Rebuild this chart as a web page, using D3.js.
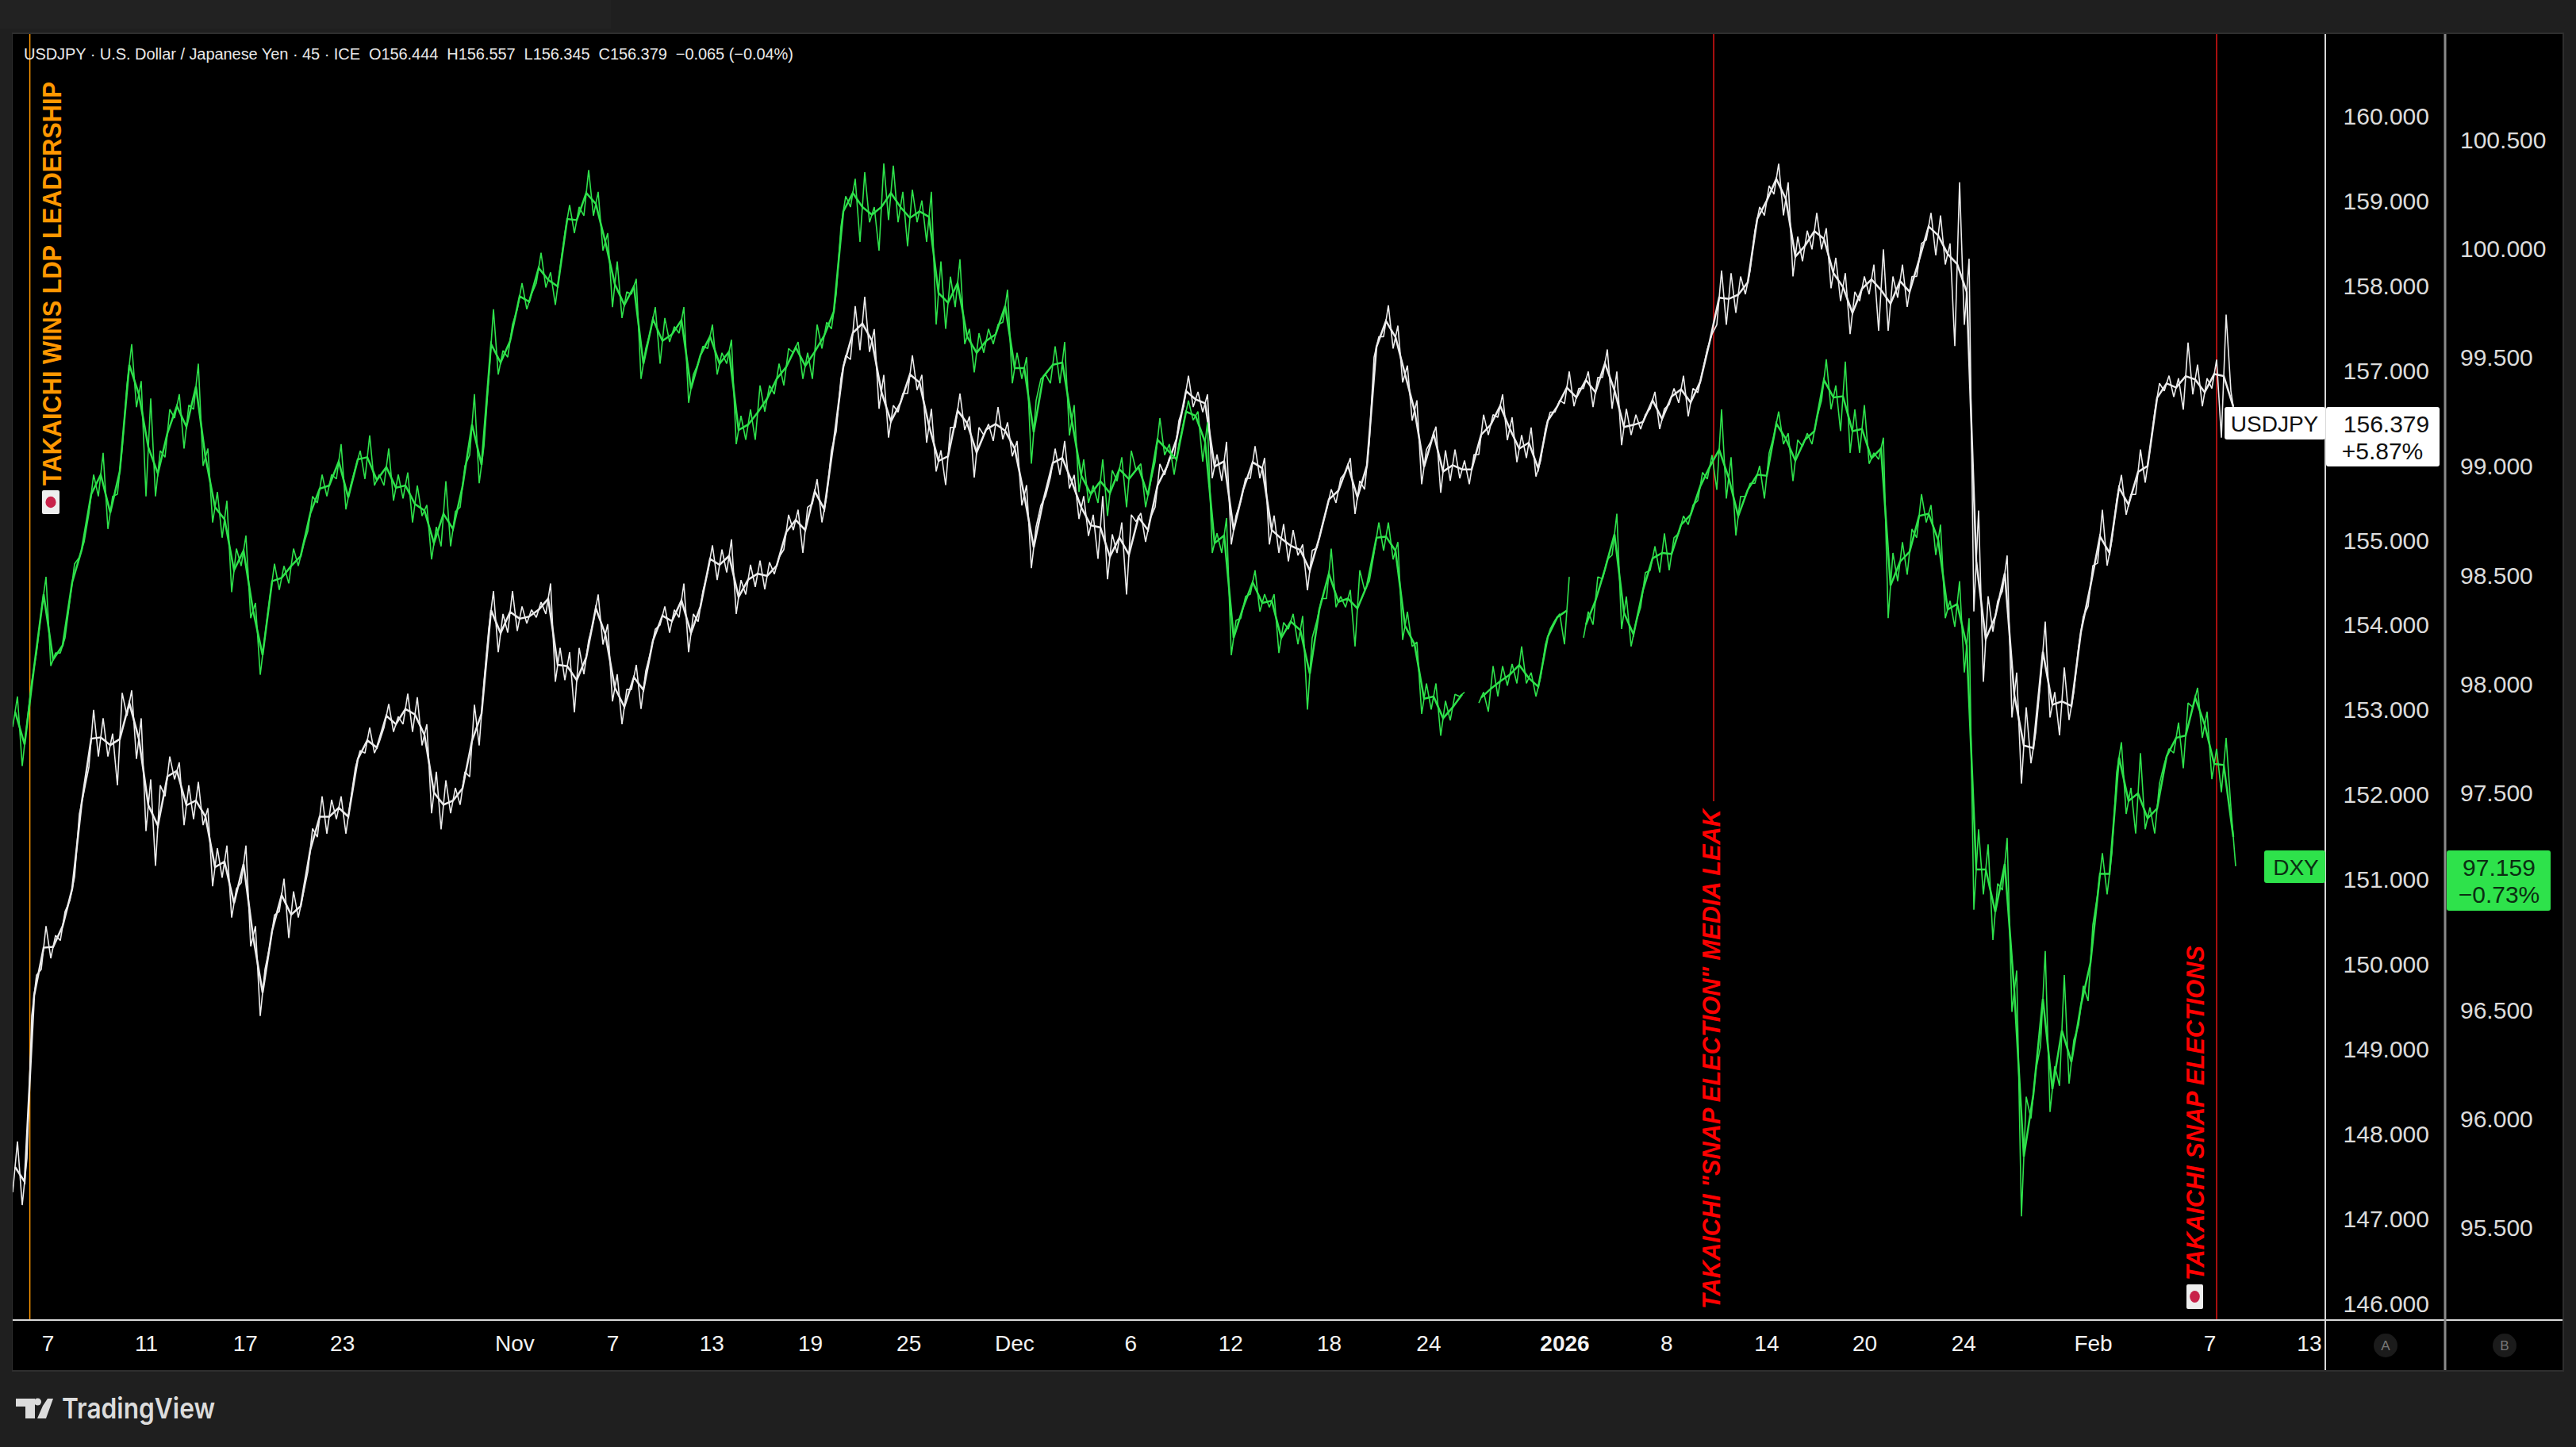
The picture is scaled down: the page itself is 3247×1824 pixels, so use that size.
<!DOCTYPE html>
<html>
<head>
<meta charset="utf-8">
<script src="https://cdn.jsdelivr.net/npm/d3@7"></script>
<style>
    html, body { margin: 0; padding: 0; background: #1f1f1f; }
    svg { display: block; }
    text { font-family: "Liberation Sans", Arial, sans-serif; }
</style>
</head>
<body>
<div id="chart"></div>
<script>
// 45 min chart, one high/low pair per sample
const jpyHigh = [
    147.9,147.7,149.86,150.44,150.33,150.61,151.02,152.03,152.99,152.89,152.71,153.19,153.22,152.89,152.17,152.1,152.44,152.37,152.1,152.14,151.83,151.36,151.39,150.88,151.39,150.44,149.93,150.57,151,150.85,150.81,151.59,151.97,151.93,151.97,151.93,152.51,152.78,152.61,153.06,
    152.91,153.18,153.14,152.82,152.26,152.16,152.07,152.26,153.05,153.32,154.39,154.12,154.39,154.21,154.17,154.26,154.48,153.72,153.67,153.72,153.81,154.35,154.0,153.41,153.23,153.52,153.45,153.94,154.21,154.17,154.48,154.12,154.39,154.93,154.88,155.0,154.52,154.7,154.75,
    154.73,154.79,155.29,155.35,155.38,155.71,155.51,156.27,157.17,157.75,157.86,157.48,156.94,156.58,156.72,157.17,156.94,156.54,156.05,156.32,156.72,156.45,156.32,156.36,156.56,156.38,156.16,155.64,155.15,155.51,156.07,156.16,155.76,155.51,155.29,155.51,155.06,155.2,155.29,
    155.31,155.25,155.89,155.96,156.4,156.93,156.74,156.71,156,156.15,155.28,155.72,156.1,155.96,155.28,155.18,155.11,154.94,154.87,155.14,155.59,155.72,155.96,155.69,156.15,157.39,157.76,157.52,157.05,156.64,156.06,156.33,156.05,156.06,155.93,156,156.47,156.47,156.71,
    156.44,156.23,156.32,155.93,156.5,156.64,156.98,156.78,156.98,156.91,157.24,156.98,156.54,156.47,156.47,156.74,156.54,156.78,156.93,156.78,156.98,157.42,158.17,158.14,158.1,158.17,158.92,159.17,159.43,159.21,158.57,158.64,158.85,158.67,158.32,158.14,157.92,158.1,158.24,
    158.42,158.1,158.24,158.1,158.49,158.85,158.82,158.49,159.21,158.31,155.34,154.33,154.27,154.81,153.43,153.02,152.72,154.03,153.2,153.49,153.2,154.09,154.69,155.35,154.99,155.76,155.53,156.06,156.06,156.84,156.93,156.9,157.32,157.06,156.9,157.12,157.65,156.75
];
const jpyLow = [
    147.3,147.15,149.38,149.93,150.06,150.27,150.74,151.76,152.31,152.44,152.44,152.1,152.92,152.41,151.56,151.15,151.97,152.17,151.63,151.7,151.63,150.91,151.01,150.54,150.95,150.2,149.38,150.2,150.61,150.3,150.54,151.08,151.49,151.53,151.7,151.53,152.31,152.48,152.48,152.78,
    152.73,152.82,152.73,152.57,151.77,151.58,151.77,151.87,152.2,152.57,153.94,153.67,153.9,153.92,154.01,154.08,154.12,153.32,153.34,152.96,153.41,154.03,153.76,153.09,152.82,153.23,153.0,153.67,153.99,153.9,154.08,153.67,154.03,154.61,154.52,154.61,154.12,154.35,154.44,
    154.41,154.59,154.88,155.11,154.84,155.42,155.2,156.05,156.9,157.12,157.23,157.21,156.54,156.2,156.5,156.72,156.76,156.14,155.8,155.64,156.32,156.29,155.73,156.23,156.16,156.18,155.98,155.4,154.66,155.4,155.73,155.76,155.6,155.24,155.04,154.77,154.53,154.84,154.35,
    155.21,154.97,155.38,155.76,155.96,156.57,156.56,156.5,155.72,155.69,154.94,155.45,155.72,155.72,154.94,154.84,154.74,154.81,154.4,154.9,155.35,155.43,155.79,155.3,155.59,157.15,157.39,157.25,156.85,156.4,155.65,156.16,155.55,155.69,155.72,155.65,156,156.23,156.44,
    156.17,155.91,155.96,155.74,156.3,156.5,156.6,156.57,156.78,156.56,156.91,156.54,156.11,156.23,156.3,156.54,156.3,156.59,156.61,156.45,156.73,157.24,157.53,157.53,157.67,157.89,158.64,158.82,159.07,158.82,158.1,158.28,158.42,158.42,157.96,157.81,157.42,157.81,157.89,
    157.46,157.46,157.85,157.74,158.1,158.53,158.35,158.24,157.28,157.53,154.15,153.32,153.91,154.39,152.9,152.12,152.36,153.32,152.9,152.69,152.87,153.73,154.21,154.72,154.69,155.46,155.29,155.53,155.67,156.5,156.75,156.68,156.53,156.71,156.57,156.78,156.2,156.38
];
const dxyHigh = [
    97.94,97.82,98.14,98.49,98.14,98.21,98.55,98.65,98.96,99.06,98.86,99.08,99.56,99.39,99.31,99.07,99.26,99.33,99.28,99.47,99.08,98.88,98.84,98.62,98.68,98.37,98.22,98.55,98.54,98.62,98.63,98.86,98.96,98.96,99.10,98.91,99.07,99.14,98.96,99.08,
    98.96,98.97,98.91,98.82,98.72,98.93,98.79,99.00,99.33,99.09,99.72,99.53,99.65,99.84,99.79,99.98,99.89,99.91,100.20,100.19,100.36,100.26,100.07,99.94,99.80,99.86,99.54,99.73,99.68,99.64,99.73,99.42,99.55,99.65,99.52,99.58,99.23,99.26,99.37,
    99.37,99.47,99.54,99.57,99.52,99.65,99.66,99.79,100.24,100.32,100.35,100.19,100.39,100.38,100.26,100.27,100.22,100.26,99.94,99.87,99.95,99.63,99.61,99.63,99.65,99.81,99.52,99.50,99.30,99.42,99.55,99.57,99.28,99.03,98.91,99.03,98.98,99.04,99.07,
    99.01,98.92,99.22,99.10,99.10,99.30,99.25,99.20,98.69,98.76,98.29,98.40,98.52,98.41,98.41,98.28,98.32,98.31,98.21,98.39,98.62,98.40,98.43,98.52,98.47,98.74,98.74,98.65,98.33,98.19,98.00,98.00,97.92,97.95,97.96,null,97.96,98.08,98.08,
    98.09,98.17,98.05,98.03,98.25,98.32,98.49,null,98.33,98.49,98.57,98.78,98.40,98.28,98.51,98.63,98.69,98.67,98.77,98.82,98.97,99.05,99.26,99.04,98.86,98.92,99.00,99.06,99.25,99.15,99.12,99.15,99.22,99.49,99.37,99.48,99.26,99.28,99.06,
    99.13,98.60,98.65,98.71,98.87,98.82,98.73,98.38,98.47,98.30,97.33,97.26,97.08,97.29,96.68,96.10,96.22,96.77,96.24,96.66,96.36,96.61,96.89,97.22,97.22,97.73,97.52,97.68,97.43,97.54,97.70,97.82,97.91,97.98,97.87,97.70,97.75,97.43
];
const dxyLow = [
    97.80,97.62,98.01,98.33,98.08,98.14,98.38,98.58,98.78,98.86,98.71,98.87,99.37,99.27,98.86,98.86,99.04,99.22,99.08,99.26,99.00,98.74,98.67,98.42,98.54,98.30,98.04,98.39,98.43,98.46,98.54,98.70,98.83,98.86,98.94,98.80,98.99,98.94,98.91,98.91,
    98.84,98.85,98.74,98.77,98.57,98.63,98.63,98.81,99.05,98.92,99.40,99.42,99.50,99.72,99.72,99.84,99.82,99.74,100.07,100.07,100.15,100.15,99.99,99.73,99.68,99.79,99.40,99.62,99.47,99.57,99.61,99.29,99.47,99.54,99.42,99.47,99.10,99.12,99.12,
    99.25,99.33,99.37,99.52,99.40,99.40,99.54,99.63,100.10,100.19,100.03,100.12,99.99,100.13,100.12,100.01,100.12,100.03,99.65,99.63,99.73,99.56,99.43,99.52,99.56,99.66,99.38,99.40,99.01,99.40,99.38,99.38,99.14,98.88,98.83,98.83,98.77,98.93,98.81,
    98.98,98.81,99.02,99.05,98.96,99.20,99.21,99.02,98.60,98.60,98.13,98.30,98.41,98.33,98.35,98.14,98.25,98.18,97.88,98.29,98.39,98.35,98.35,98.17,98.43,98.60,98.61,98.57,98.20,98.17,97.86,97.88,97.76,97.83,97.94,null,97.91,97.87,97.94,
    97.99,98.00,98.00,97.94,98.18,98.29,98.18,null,98.21,98.27,98.48,98.59,98.25,98.17,98.35,98.52,98.51,98.52,98.69,98.73,98.84,98.94,98.89,98.85,98.68,98.86,98.92,98.85,99.14,99.10,98.93,99.09,99.10,99.30,99.26,99.16,99.06,99.06,99.01,
    99.03,98.30,98.47,98.50,98.67,98.74,98.59,98.30,98.26,98.05,96.96,97.03,96.82,97.05,96.49,95.55,96.00,96.33,96.03,96.15,96.16,96.43,96.54,97.03,97.03,97.59,97.40,97.31,97.33,97.31,97.63,97.68,97.61,97.89,97.75,97.56,97.50,97.16
];

const jpyTicks = [146, 147, 148, 149, 150, 151, 152, 153, 154, 155, 157, 158, 159, 160];
const dxyTicks = [95.5, 96, 96.5, 97.5, 98, 98.5, 99, 99.5, 100, 100.5];
const timeLabels = ['7', '11', '17', '23', 'Nov', '7', '13', '19', '25', 'Dec', '6', '12', '18', '24', '2026', '8', '14', '20', '24', 'Feb', '7', '13'];
const timeBars = [3.67, 14, 24.4, 34.6, 52.7, 63, 73.4, 83.75, 94.1, 105.2, 117.4, 127.9, 138.25, 148.7, 163, 173.7, 184.2, 194.5, 204.9, 218.5, 230.75, 241.2];

const headerText = 'USDJPY · U.S. Dollar / Japanese Yen · 45 · ICE  O156.444  H156.557  L156.345  C156.379  −0.065 (−0.04%)';
const eventBars = [1.8, 178.67, 231.5];

const W = 3247, H = 1824;
const panel = { left: 16, top: 43, right: 3230, bottom: 1727 };
const axisA = 2931, axisB = 3082, timeY = 1664;

const green = '#2ee24b', white = '#ececec', red = '#e01414', orange = '#ff9800';

const svg = d3.select('#chart').append('svg')
    .attr('width', W)
    .attr('height', H)
    .attr('viewBox', `0 0 ${W} ${H}`);

svg.append('rect').attr('width', W).attr('height', H).attr('fill', '#1f1f1f');
svg.append('rect').attr('width', 770).attr('height', 36).attr('fill', '#222222');
svg.append('rect')
    .attr('x', panel.left - 1).attr('y', panel.top - 2)
    .attr('width', panel.right - panel.left + 3).attr('height', panel.bottom - panel.top + 4)
    .attr('fill', '#2e2e2e');
svg.append('rect')
    .attr('x', panel.left).attr('y', panel.top)
    .attr('width', panel.right - panel.left).attr('height', panel.bottom - panel.top)
    .attr('fill', '#000');

// one bar index is 12px on screen
const x = d3.scaleLinear().domain([0, 233]).range([16, 2812]);
const yJpy = d3.scaleLinear().domain([146, 160]).range([1642, 145.4]);
const yDxy = d3.scaleLinear().domain([95.5, 100.5]).range([1547, 176]);

svg.append('defs').append('clipPath').attr('id', 'plot')
    .append('rect')
    .attr('x', panel.left).attr('y', panel.top)
    .attr('width', axisA - panel.left).attr('height', timeY - panel.top);

// jagged low/high trace with a heavier core through the middle of each range
const drawSeries = (low, high, y, color) => {
    const g = svg.append('g').attr('clip-path', 'url(#plot)');
    const last = low.length - 1;
    // the last sample ends on its close, which is the low of that bar
    const points = low.flatMap((v, i) => i === last
        ? [{ bar: i, value: high[i] }, { bar: i + 0.5, value: v }]
        : [{ bar: i, value: v }, { bar: i + 0.5, value: high[i] }]);
    const mids = low.map((v, i) => ({ bar: i + 0.25, value: v == null ? null : (v + high[i]) / 2 }));
    const line = d3.line()
        .defined(d => d.value != null)
        .x(d => x(d.bar))
        .y(d => y(d.value));
    g.append('path')
        .datum(points)
        .attr('fill', 'none')
        .attr('stroke', color)
        .attr('stroke-width', 1.6)
        .attr('stroke-linejoin', 'bevel')
        .attr('d', line);
    g.append('path')
        .datum(mids)
        .attr('fill', 'none')
        .attr('stroke', color)
        .attr('stroke-width', 2.5)
        .attr('d', line);
};

// event lines
svg.selectAll('.event')
    .data(eventBars)
    .join('line')
    .attr('class', 'event')
    .attr('x1', d => x(d)).attr('x2', d => x(d))
    .attr('y1', panel.top)
    .attr('y2', (d, i) => i === 1 ? 1010 : timeY)
    .attr('stroke', (d, i) => i === 0 ? orange : red)
    .attr('stroke-width', 1.5);

drawSeries(jpyLow, jpyHigh, yJpy, white);
drawSeries(dxyLow, dxyHigh, yDxy, green);

// axis frames
svg.append('line').attr('x1', panel.left).attr('x2', panel.right).attr('y1', timeY).attr('y2', timeY)
    .attr('stroke', '#d8d8d8').attr('stroke-width', 2);
svg.append('line').attr('x1', axisA).attr('x2', axisA).attr('y1', panel.top).attr('y2', panel.bottom)
    .attr('stroke', '#d8d8d8').attr('stroke-width', 2);
svg.append('line').attr('x1', axisB).attr('x2', axisB).attr('y1', panel.top).attr('y2', panel.bottom)
    .attr('stroke', '#8a8a8a').attr('stroke-width', 3);

const styleAxis = (g) => {
    g.select('.domain').remove();
    g.selectAll('.tick line').remove();
    g.selectAll('text')
        .attr('font-family', '"Liberation Sans", Arial, sans-serif')
        .attr('font-size', 30)
        .attr('fill', '#dcdcdc');
};

svg.append('g')
    .attr('transform', `translate(${axisA},1.5)`)
    .call(d3.axisRight(yJpy).tickValues(jpyTicks).tickFormat(d3.format('.3f')).tickSize(0).tickPadding(0))
    .call(styleAxis)
    .selectAll('text')
    .attr('text-anchor', 'end')
    .attr('x', 131);

svg.append('g')
    .attr('transform', `translate(${axisB},1)`)
    .call(d3.axisRight(yDxy).tickValues(dxyTicks).tickFormat(d3.format('.3f')).tickSize(0).tickPadding(19))
    .call(styleAxis);

svg.append('g')
    .attr('transform', `translate(0,${timeY})`)
    .call(d3.axisBottom(x).tickValues(timeBars).tickFormat((d, i) => timeLabels[i]).tickSize(0).tickPadding(19))
    .call(styleAxis)
    .selectAll('text')
    .attr('font-size', 28)
    .attr('fill', '#f2f2f2')
    .attr('font-weight', d => timeLabels[timeBars.indexOf(d)] === '2026' ? 'bold' : 'normal');

// header
svg.append('text')
    .attr('x', 30).attr('y', 75)
    .attr('font-size', 20)
    .attr('fill', '#e8e8e8')
    .attr('xml:space', 'preserve')
    .style('white-space', 'pre')
    .attr('textLength', 970)
    .text(headerText);

// event notes, rotated along their lines
const note = (label, baseX, bottomY, len, size, color, italic) => {
    svg.append('text')
        .attr('transform', `translate(${baseX},${bottomY}) rotate(-90)`)
        .attr('font-size', size)
        .attr('font-weight', 'bold')
        .attr('font-style', italic ? 'italic' : 'normal')
        .attr('fill', color)
        .attr('textLength', len)
        .attr('lengthAdjust', 'spacingAndGlyphs')
        .text(label);
};
note('TAKAICHI WINS LDP LEADERSHIP', 77, 612, 509, 33, orange, false);
note('TAKAICHI "SNAP ELECTION" MEDIA LEAK', 2168, 1650, 630, 32, '#ff0000', true);
note('TAKAICHI SNAP ELECTIONS', 2778, 1614, 422, 32, '#ff0000', true);

const flag = (fx, fy, w, h) => {
    svg.append('rect').attr('x', fx).attr('y', fy).attr('width', w).attr('height', h).attr('rx', 2).attr('fill', '#eeeeee');
    svg.append('ellipse').attr('cx', fx + w / 2).attr('cy', fy + h / 2).attr('rx', w * 0.3).attr('ry', h * 0.24).attr('fill', '#c8224a');
};
flag(53, 618, 22, 30);
flag(2756, 1619, 21, 31);

// last price labels
const box = (bx, by, w, h, fill, radius) => svg.append('rect')
    .attr('x', bx).attr('y', by).attr('width', w).attr('height', h).attr('rx', radius).attr('fill', fill);
const boxText = (label, tx, ty, size, fill) => svg.append('text')
    .attr('x', tx).attr('y', ty)
    .attr('text-anchor', 'middle')
    .attr('dominant-baseline', 'central')
    .attr('font-size', size)
    .attr('fill', fill)
    .text(label);

box(2804, 513, 127, 41, '#ffffff', 3);
boxText('USDJPY', 2867, 534, 28, '#111111');
box(2932, 513, 143, 75, '#ffffff', 3);
boxText('156.379', 3008, 534, 30, '#111111');
boxText('+5.87%', 3003, 568, 30, '#111111');

box(2854, 1072, 77, 41, green, 3);
boxText('DXY', 2894, 1093, 28, '#0b2e12');
box(3084, 1072, 131, 76, green, 3);
boxText('97.159', 3150, 1093, 30, '#0b2e12');
boxText('−0.73%', 3150, 1127, 30, '#0b2e12');

// scale badges
[['A', 3007], ['B', 3157]].forEach(([label, cx]) => {
    svg.append('ellipse').attr('cx', cx).attr('cy', 1696).attr('rx', 15).attr('ry', 15).attr('fill', '#1b1b1b');
    boxText(label, cx, 1696, 17, '#787878');
});

// TradingView mark
svg.append('path')
    .attr('fill', '#dcdcdc')
    .attr('d', 'M20 1763H44V1788H32V1773H20Z M60 1763H67L58 1788H47L54 1772Z');
svg.append('circle').attr('cx', 47.5).attr('cy', 1767).attr('r', 4.5).attr('fill', '#dcdcdc');
svg.append('text')
    .attr('x', 78).attr('y', 1788)
    .attr('font-size', 36)
    .attr('font-weight', 600)
    .style('font-family', 'Inter, "Liberation Sans", sans-serif')
    .attr('fill', '#dcdcdc')
    .attr('textLength', 193)
    .attr('lengthAdjust', 'spacingAndGlyphs')
    .text('TradingView');
</script>
</body>
</html>
